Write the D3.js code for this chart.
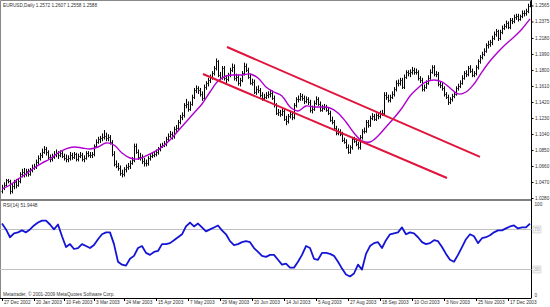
<!DOCTYPE html>
<html><head><meta charset="utf-8">
<script src="https://cdn.jsdelivr.net/npm/d3@7"></script>
<style>body{margin:0;background:#fff}svg{display:block}text{font-family:"Liberation Sans",Arial,sans-serif}</style>
</head><body><svg id="c" width="550" height="307"></svg>
<script>
const barOpen=[1.036,1.040,1.044,1.049,1.048,1.036,1.042,1.047,1.044,1.048,1.056,1.059,1.056,1.060,1.057,1.061,1.064,1.065,1.071,1.076,1.079,1.083,1.086,1.082,1.077,1.074,1.077,1.080,1.081,1.079,1.081,1.078,1.076,1.074,1.075,1.079,1.077,1.080,1.074,1.078,1.079,1.074,1.076,1.081,1.079,1.079,1.080,1.090,1.095,1.098,1.099,1.100,1.102,1.099,1.100,1.094,1.080,1.068,1.066,1.064,1.058,1.056,1.062,1.065,1.066,1.070,1.073,1.090,1.083,1.077,1.077,1.072,1.069,1.069,1.075,1.078,1.079,1.080,1.082,1.086,1.090,1.091,1.092,1.098,1.102,1.104,1.101,1.110,1.111,1.118,1.124,1.126,1.138,1.140,1.134,1.140,1.148,1.156,1.158,1.156,1.151,1.147,1.160,1.164,1.168,1.172,1.176,1.182,1.190,1.174,1.171,1.182,1.170,1.169,1.174,1.180,1.184,1.170,1.172,1.164,1.168,1.176,1.185,1.180,1.172,1.165,1.166,1.154,1.157,1.156,1.150,1.147,1.148,1.150,1.151,1.153,1.147,1.138,1.129,1.130,1.128,1.131,1.122,1.119,1.125,1.128,1.124,1.138,1.145,1.146,1.149,1.147,1.143,1.145,1.142,1.132,1.134,1.141,1.145,1.140,1.133,1.135,1.136,1.133,1.129,1.121,1.118,1.111,1.105,1.107,1.104,1.097,1.095,1.089,1.083,1.088,1.098,1.096,1.092,1.088,1.100,1.107,1.108,1.118,1.115,1.123,1.125,1.122,1.126,1.125,1.128,1.129,1.150,1.148,1.144,1.148,1.151,1.157,1.165,1.165,1.168,1.160,1.172,1.177,1.176,1.177,1.180,1.177,1.178,1.170,1.168,1.157,1.160,1.165,1.171,1.178,1.183,1.175,1.175,1.163,1.162,1.158,1.151,1.148,1.142,1.145,1.149,1.152,1.158,1.161,1.165,1.171,1.176,1.175,1.182,1.179,1.174,1.176,1.183,1.190,1.195,1.199,1.203,1.209,1.211,1.213,1.218,1.223,1.226,1.218,1.225,1.230,1.232,1.236,1.231,1.239,1.238,1.243,1.244,1.240,1.244,1.248,1.247,1.250,1.256];
const barHigh=[1.043,1.046,1.050,1.050,1.049,1.044,1.049,1.050,1.050,1.058,1.062,1.063,1.062,1.062,1.063,1.067,1.068,1.073,1.078,1.081,1.086,1.089,1.088,1.084,1.079,1.080,1.083,1.085,1.083,1.084,1.083,1.080,1.079,1.078,1.082,1.081,1.082,1.081,1.080,1.082,1.081,1.078,1.083,1.083,1.082,1.082,1.091,1.097,1.100,1.101,1.104,1.108,1.105,1.103,1.102,1.096,1.083,1.072,1.069,1.066,1.061,1.064,1.067,1.069,1.072,1.076,1.092,1.092,1.085,1.081,1.079,1.075,1.073,1.077,1.080,1.082,1.083,1.085,1.088,1.092,1.093,1.095,1.100,1.104,1.107,1.106,1.112,1.114,1.120,1.126,1.129,1.140,1.145,1.142,1.142,1.150,1.158,1.161,1.160,1.158,1.154,1.162,1.166,1.170,1.174,1.178,1.184,1.193,1.191,1.177,1.184,1.184,1.173,1.176,1.182,1.187,1.186,1.175,1.174,1.170,1.178,1.188,1.187,1.182,1.175,1.169,1.168,1.160,1.161,1.158,1.153,1.151,1.153,1.154,1.156,1.155,1.149,1.140,1.133,1.132,1.134,1.133,1.125,1.127,1.131,1.130,1.140,1.147,1.149,1.152,1.151,1.149,1.148,1.147,1.144,1.137,1.143,1.148,1.147,1.142,1.138,1.139,1.138,1.135,1.131,1.124,1.120,1.113,1.110,1.109,1.106,1.099,1.097,1.091,1.090,1.100,1.100,1.098,1.094,1.102,1.109,1.111,1.120,1.120,1.125,1.128,1.127,1.128,1.129,1.131,1.132,1.153,1.153,1.150,1.150,1.154,1.159,1.167,1.168,1.170,1.170,1.174,1.179,1.179,1.180,1.183,1.182,1.181,1.179,1.172,1.170,1.162,1.167,1.173,1.180,1.185,1.185,1.178,1.177,1.166,1.164,1.160,1.153,1.150,1.147,1.151,1.154,1.160,1.163,1.167,1.173,1.178,1.179,1.184,1.185,1.181,1.178,1.185,1.192,1.197,1.201,1.205,1.211,1.214,1.215,1.220,1.225,1.228,1.227,1.227,1.232,1.234,1.238,1.237,1.241,1.241,1.245,1.246,1.246,1.245,1.250,1.250,1.252,1.258,1.261];
const barLow=[1.034,1.038,1.042,1.046,1.033,1.034,1.039,1.040,1.042,1.046,1.053,1.053,1.054,1.054,1.055,1.059,1.062,1.063,1.068,1.073,1.076,1.081,1.079,1.074,1.071,1.072,1.075,1.077,1.075,1.077,1.076,1.073,1.071,1.071,1.073,1.074,1.075,1.072,1.072,1.076,1.072,1.071,1.074,1.077,1.076,1.076,1.078,1.088,1.093,1.094,1.096,1.098,1.096,1.096,1.092,1.078,1.066,1.064,1.061,1.055,1.053,1.054,1.059,1.062,1.063,1.068,1.071,1.081,1.074,1.073,1.069,1.066,1.066,1.067,1.073,1.076,1.077,1.078,1.080,1.084,1.088,1.089,1.090,1.096,1.100,1.098,1.099,1.107,1.109,1.116,1.121,1.124,1.135,1.131,1.132,1.138,1.146,1.153,1.152,1.149,1.144,1.145,1.157,1.161,1.165,1.169,1.174,1.180,1.172,1.168,1.169,1.168,1.165,1.167,1.172,1.178,1.168,1.167,1.162,1.161,1.166,1.174,1.178,1.170,1.163,1.162,1.152,1.151,1.153,1.148,1.144,1.144,1.146,1.147,1.148,1.145,1.136,1.127,1.126,1.125,1.126,1.120,1.115,1.117,1.123,1.121,1.122,1.136,1.142,1.144,1.144,1.140,1.141,1.139,1.130,1.129,1.132,1.139,1.138,1.131,1.131,1.133,1.131,1.127,1.119,1.116,1.109,1.103,1.103,1.102,1.095,1.093,1.087,1.081,1.081,1.086,1.094,1.090,1.086,1.086,1.098,1.105,1.106,1.112,1.113,1.121,1.120,1.120,1.122,1.123,1.126,1.127,1.145,1.142,1.142,1.146,1.149,1.155,1.161,1.162,1.158,1.158,1.170,1.173,1.172,1.175,1.175,1.175,1.168,1.165,1.155,1.155,1.158,1.163,1.169,1.176,1.173,1.172,1.161,1.159,1.156,1.149,1.146,1.139,1.140,1.143,1.147,1.150,1.156,1.159,1.163,1.169,1.172,1.173,1.177,1.172,1.172,1.174,1.181,1.188,1.193,1.197,1.201,1.206,1.208,1.210,1.216,1.220,1.215,1.216,1.223,1.228,1.230,1.229,1.229,1.235,1.236,1.240,1.238,1.239,1.242,1.244,1.245,1.248,1.255];
const barClose=[1.040,1.044,1.049,1.048,1.036,1.042,1.047,1.044,1.048,1.056,1.059,1.056,1.060,1.057,1.061,1.064,1.065,1.071,1.076,1.079,1.083,1.086,1.082,1.077,1.074,1.077,1.080,1.081,1.079,1.081,1.078,1.076,1.074,1.075,1.079,1.077,1.080,1.074,1.078,1.079,1.074,1.076,1.081,1.079,1.079,1.080,1.090,1.095,1.098,1.099,1.100,1.102,1.099,1.100,1.094,1.080,1.068,1.066,1.064,1.058,1.056,1.062,1.065,1.066,1.070,1.073,1.090,1.083,1.077,1.077,1.072,1.069,1.069,1.075,1.078,1.079,1.080,1.082,1.086,1.090,1.091,1.092,1.098,1.102,1.104,1.101,1.110,1.111,1.118,1.124,1.126,1.138,1.140,1.134,1.140,1.148,1.156,1.158,1.156,1.151,1.147,1.160,1.164,1.168,1.172,1.176,1.182,1.190,1.174,1.171,1.182,1.170,1.169,1.174,1.180,1.184,1.170,1.172,1.164,1.168,1.176,1.185,1.180,1.172,1.165,1.166,1.154,1.157,1.156,1.150,1.147,1.148,1.150,1.151,1.153,1.147,1.138,1.129,1.130,1.128,1.131,1.122,1.119,1.125,1.128,1.124,1.138,1.145,1.146,1.149,1.147,1.143,1.145,1.142,1.132,1.134,1.141,1.145,1.140,1.133,1.135,1.136,1.133,1.129,1.121,1.118,1.111,1.105,1.107,1.104,1.097,1.095,1.089,1.083,1.088,1.098,1.096,1.092,1.088,1.100,1.107,1.108,1.118,1.115,1.123,1.125,1.122,1.126,1.125,1.128,1.129,1.150,1.148,1.144,1.148,1.151,1.157,1.165,1.165,1.168,1.160,1.172,1.177,1.176,1.177,1.180,1.177,1.178,1.170,1.168,1.157,1.160,1.165,1.171,1.178,1.183,1.175,1.175,1.163,1.162,1.158,1.151,1.148,1.142,1.145,1.149,1.152,1.158,1.161,1.165,1.171,1.176,1.175,1.182,1.179,1.174,1.176,1.183,1.190,1.195,1.199,1.203,1.209,1.211,1.213,1.218,1.223,1.226,1.218,1.225,1.230,1.232,1.236,1.231,1.239,1.238,1.243,1.244,1.240,1.244,1.248,1.247,1.250,1.256,1.259];
// moving average, one value every 4 bars
const maValues=[1.0387,1.0434,1.0505,1.0565,1.0636,1.0695,1.0743,1.0814,1.0862,1.0885,1.0874,1.0862,1.0885,1.0933,1.0909,1.0814,1.0755,1.0743,1.0779,1.0826,1.0885,1.0968,1.1075,1.1182,1.1289,1.1396,1.1538,1.1669,1.1728,1.1740,1.1740,1.1752,1.1704,1.1598,1.1538,1.1491,1.1360,1.1313,1.1372,1.1360,1.1360,1.1348,1.1289,1.1182,1.1052,1.0957,1.0945,1.1016,1.1123,1.1230,1.1348,1.1491,1.1586,1.1657,1.1681,1.1657,1.1586,1.1515,1.1538,1.1633,1.1776,1.1906,1.2013,1.2108,1.2191,1.2286,1.2405];
// RSI(14), one value every 2 bars
const rsiValues=[76,70,62,66,67,69,67,70,74,77,79,79,75,70,75,63,52,55,50,51,55,53,51,54,60,65,67,67,55,37,34,33,40,43,51,53,46,44,47,48,55,55,56,59,62,65,73,77,73,76,72,68,70,72,74,69,65,58,54,55,57,58,57,51,47,43,42,44,44,39,34,35,31,31,37,44,53,51,40,39,46,46,45,43,37,30,24,22,25,34,29,45,53,56,57,51,59,65,66,67,72,65,67,66,62,57,55,56,59,58,52,45,39,37,44,52,60,65,63,56,61,62,64,67,69,69,71,73,74,71,72,72,76];
const priceTicks=[1.2565,1.2375,1.2180,1.1990,1.1800,1.1610,1.1420,1.1230,1.1040,1.0850,1.0660,1.0470,1.0280];
const dateLabels=["27 Dec 2002","20 Jan 2003","10 Feb 2003","3 Mar 2003","24 Mar 2003","15 Apr 2003","7 May 2003","29 May 2003","20 Jun 2003","14 Jul 2003","5 Aug 2003","27 Aug 2003","18 Sep 2003","10 Oct 2003","3 Nov 2003","25 Nov 2003","17 Dec 2003"];
const dateLabelBars=[0,16,31,46,61,77,93,109,125,141,157,173,189,205,221,237,253];
const channelUpper=[[112.5,1.2072],[239,1.0767]];
const channelLower=[[100.5,1.1752],[222.5,1.0517]];
const rsiLevels=[70,30];
const titleText="EURUSD,Daily  1.2572 1.2607 1.2558 1.2588";
const rsiTitle="RSI(14) 51.9448";
const copyright="Metatrader, \u00a9 2001-2009 MetaQuotes Software Corp.";

const svg=d3.select("#c");
const N=barClose.length;
const axisX=531.5;
const x=d3.scaleLinear().domain([0,N-1]).range([2,530]);
const y=d3.scaleLinear().domain([1.0268,1.2618]).range([199,1]);
const yr=d3.scaleLinear().domain([0,100]).range([298,200]);
const fs=4.7, txt="#333";

svg.append("rect").attr("x",0).attr("y",0).attr("width",550).attr("height",307).attr("fill","#fff");
svg.append("path").attr("d",`M0.5,298V0.5H${axisX}`).attr("stroke","#888").attr("fill","none");

// price bars
const bars=svg.append("g").attr("stroke","#000").attr("stroke-width",1);
d3.range(N).forEach(i=>{
  const xi=Math.round(x(i))+0.5;
  bars.append("line").attr("x1",xi).attr("x2",xi).attr("y1",y(barHigh[i])-0.5).attr("y2",y(barLow[i])+0.5);
  const yo=Math.round(y(barOpen[i]))+0.5, yc=Math.round(y(barClose[i]))+0.5;
  bars.append("line").attr("x1",xi-1).attr("x2",xi).attr("y1",yo).attr("y2",yo).attr("stroke","#222");
  bars.append("line").attr("x1",xi).attr("x2",xi+1).attr("y1",yc).attr("y2",yc).attr("stroke","#222");
});

// moving average
svg.append("path").datum(maValues)
  .attr("d",d3.line().x((d,i)=>x(i*4)).y(d=>y(d)).curve(d3.curveCatmullRom))
  .attr("fill","none").attr("stroke","#b000d0").attr("stroke-width",1.4);

// channel lines
[channelUpper,channelLower].forEach(c=>{
  svg.append("line").attr("x1",x(c[0][0])).attr("y1",y(c[0][1])).attr("x2",x(c[1][0])).attr("y2",y(c[1][1]))
    .attr("stroke","#e0143c").attr("stroke-width",2);
});

// separator
svg.append("rect").attr("x",0).attr("y",199).attr("width",axisX).attr("height",2).attr("fill","#808080");

// price axis
const ya=d3.axisRight(y).tickValues(priceTicks).tickFormat(d3.format(".4f")).tickSize(2).tickPadding(1.5);
const gy=svg.append("g").attr("transform",`translate(${axisX},0)`).call(ya);
gy.select(".domain").attr("stroke","#000").attr("d","M0,0V298");
gy.selectAll("line").attr("stroke","#000");
gy.selectAll("text").attr("font-size",fs).attr("fill",txt);

// RSI levels
rsiLevels.forEach(v=>{
  svg.append("line").attr("x1",0).attr("x2",axisX).attr("y1",Math.round(yr(v))+0.5).attr("y2",Math.round(yr(v))+0.5).attr("stroke","#c0c0c0");
  const g=svg.append("g").attr("transform",`translate(${axisX+1.5},${Math.round(yr(v))+0.5})`);
  g.append("rect").attr("x",0).attr("y",-3.5).attr("width",8).attr("height",7).attr("fill","#f4f4f4").attr("stroke","#c8c8c8").attr("stroke-width",0.6);
  g.append("text").attr("x",1.3).attr("y",1.7).attr("font-size",fs).attr("fill","#aaa").text(v);
});
svg.append("text").attr("x",axisX+3).attr("y",yr(100)+6).attr("font-size",fs).attr("fill",txt).text("100");
svg.append("text").attr("x",axisX+3).attr("y",yr(0)-1.5).attr("font-size",fs).attr("fill",txt).text("0");

// RSI line
svg.append("path").datum(rsiValues)
  .attr("d",d3.line().x((d,i)=>x(i*2)).y(d=>yr(d)))
  .attr("fill","none").attr("stroke","#1414d6").attr("stroke-width",1.8).attr("stroke-linejoin","round");

// bottom line
svg.append("line").attr("x1",0).attr("x2",axisX).attr("y1",298.5).attr("y2",298.5).attr("stroke","#000");

// date axis
const xa=d3.axisBottom(x).tickValues(dateLabelBars).tickFormat((d,i)=>dateLabels[i]).tickSize(3).tickPadding(0);
const gx=svg.append("g").attr("transform","translate(0,298)").call(xa);
gx.select(".domain").remove();
gx.selectAll("line").attr("stroke","#000");
gx.selectAll("text").attr("font-size",fs).attr("fill",txt).attr("text-anchor","start").attr("dx",1.5).attr("y",2.5);

// texts
svg.append("text").attr("x",3).attr("y",7).attr("font-size",fs).attr("fill",txt).text(titleText);
svg.append("text").attr("x",3).attr("y",207).attr("font-size",fs).attr("fill",txt).text(rsiTitle);
svg.append("text").attr("x",3).attr("y",296).attr("font-size",fs).attr("fill",txt).text(copyright);
</script></body></html>
